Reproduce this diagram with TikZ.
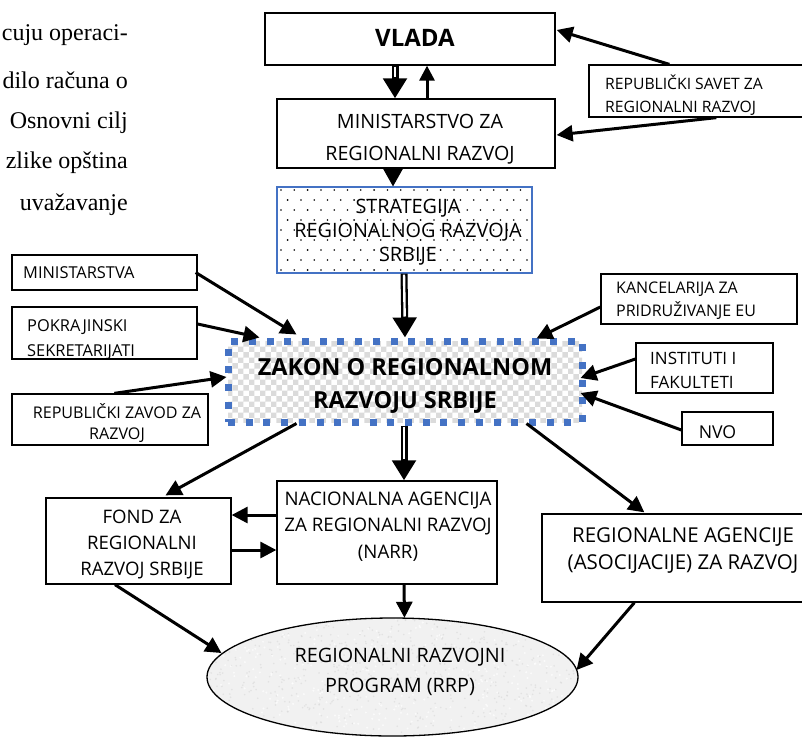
\documentclass[tikz,border=0pt]{standalone}
\usepackage{fontspec}
\setmainfont{Open Sans}
\newfontfamily\bodyserif{Liberation Serif}
\usetikzlibrary{arrows.meta,shapes.geometric,patterns,calc}
\definecolor{zblue}{RGB}{68,114,196}
\newcommand\fsz[2]{\fontsize{#1}{#2}\selectfont}
\newcommand\fatarr[2]{\draw[fat] #1 -- #2; \draw[white,line width=2.4pt,shorten >=21pt,shorten <=1pt] #1 -- #2;}
\begin{document}
\begin{tikzpicture}[x=1pt,y=-1pt,
  box/.style={draw=black,line width=1.3pt,rectangle,inner sep=0pt},
  txt/.style={inner sep=0pt,align=center},
  txl/.style={inner sep=0pt,align=left,anchor=west},
  arr/.style={line width=3pt,-{Triangle[width=16pt,length=16pt]}},
  fat/.style={line width=7pt,-{Triangle[width=23pt,length=20pt]}},
  serif/.style={inner sep=0pt,anchor=east,font=\bodyserif\fsz{24}{28}}]
\useasboundingbox (0,0) rectangle (802,736);

% body text fragments
\node[serif] (b1) at (128,35) {cuju operaci-};
\node[serif] (b2) at (128,80) {dilo računa o};
\node[serif] (b3) at (128,123) {Osnovni cilj};
\node[serif] (b4) at (128,163) {zlike opština};
\node[serif] (b5) at (128,205) {uvažavanje};

% boxes
\node[box,minimum width=290pt,minimum height=52pt] (vlada) at (410,39) {};
\node[box,minimum width=278pt,minimum height=69pt] (mini) at (416,133.5) {};
\node[box,minimum width=217pt,minimum height=52pt] (savet) at (697.5,91) {};
\node[rectangle,draw=zblue,line width=1.2pt,inner sep=0pt,minimum width=255pt,minimum height=86pt] (strat) at (404.5,230) {};
\begin{scope}
  \clip (strat.north west) rectangle (strat.south east);
  \foreach \r in {0,...,8} {\foreach \c in {0,...,19} {
    \fill ({281+\c*13.3+mod(\r,2)*6.6},{190+\r*10}) circle (0.9pt);}}
\end{scope}
\node[rectangle,draw=zblue,line width=7pt,dash pattern=on 7pt off 10.7pt,pattern=checkerboard,pattern color=gray!28,inner sep=0pt,minimum width=354pt,minimum height=81pt] (zakon) at (405,381.5) {};
\node[box,minimum width=185pt,minimum height=35pt] (minis) at (104.5,272.5) {};
\node[box,minimum width=185pt,minimum height=52pt] (pokr) at (104.5,333) {};
\node[box,minimum width=196pt,minimum height=51pt] (zavod) at (110,419.5) {};
\node[box,minimum width=196pt,minimum height=50pt] (kanc) at (699,299) {};
\node[box,minimum width=137pt,minimum height=50pt] (inst) at (704.5,368) {};
\node[box,minimum width=91pt,minimum height=33pt] (nvo) at (727.5,428.5) {};
\node[box,minimum width=185pt,minimum height=86pt] (fond) at (138.5,541) {};
\node[box,minimum width=220pt,minimum height=103pt] (narr) at (387,532.5) {};
\node[box,minimum width=264pt,minimum height=88pt] (regag) at (674,558) {};
\node[ellipse,fill=gray!11,inner sep=0pt,minimum width=371pt,minimum height=118pt] (rrp) at (392.5,677) {};
\begin{scope}
  \clip (rrp.center) ellipse [x radius=185.5pt, y radius=59pt];
  \pgfmathsetseed{11}
  \foreach \i in {1,...,700} {
    \pgfmathsetmacro\px{207+371*rnd}
    \pgfmathsetmacro\py{618+118*rnd}
    \fill[gray!32,opacity=0.55] (\px,\py) circle (0.9pt);}
  \foreach \i in {1,...,400} {
    \pgfmathsetmacro\px{207+371*rnd}
    \pgfmathsetmacro\py{618+118*rnd}
    \fill[white,opacity=0.7] (\px,\py) circle (1.1pt);}
\end{scope}
\draw[line width=1.3pt] (rrp.center) ellipse [x radius=185.5pt, y radius=59pt];

% texts
\node[txt,font=\bfseries\fsz{24}{28}] (tvlada) at (415,38) {VLADA};
\node[txt,font=\fsz{19.7}{32}] (tmini) at (420,139) {MINISTARSTVO ZA\\REGIONALNI RAZVOJ};
\node[txl,font=\fsz{15.7}{23}] (tsavet) at (605,95.5) {REPUBLIČKI SAVET ZA\\REGIONALNI RAZVOJ};
\node[txt,font=\fsz{19.8}{24}] (tstrat) at (408,232) {STRATEGIJA\\REGIONALNOG RAZVOJA\\SRBIJE};
\node[txt,font=\bfseries\fsz{23.5}{33}] (tzakon) at (405,385.5) {ZAKON O REGIONALNOM\\RAZVOJU SRBIJE};
\node[txl,font=\fsz{16.4}{23}] (tminis) at (23,273) {MINISTARSTVA};
\node[txl,font=\fsz{16.4}{25}] (tpokr) at (27,339.5) {POKRAJINSKI\\SEKRETARIJATI};
\node[txt,font=\fsz{16.1}{21}] (tzavod) at (117,423.5) {REPUBLIČKI ZAVOD ZA\\RAZVOJ};
\node[txl,font=\fsz{16}{23}] (tkanc) at (616,300.5) {KANCELARIJA ZA\\PRIDRUŽIVANJE EU};
\node[txl,font=\fsz{17}{24}] (tinst) at (650,370) {INSTITUTI I\\FAKULTETI};
\node[txt,font=\fsz{17.7}{20}] (tnvo) at (717.5,432) {NVO};
\node[txt,font=\fsz{18.6}{26}] (tfond) at (142,544) {FOND ZA\\REGIONALNI\\RAZVOJ SRBIJE};
\node[txt,font=\fsz{18.7}{26.5}] (tnarr) at (388,526.5) {NACIONALNA AGENCIJA\\ZA REGIONALNI RAZVOJ\\(NARR)};
\node[txt,font=\fsz{20.5}{27}] (tregag) at (683,550) {REGIONALNE AGENCIJE\\(ASOCIJACIJE) ZA RAZVOJ};
\node[txt,font=\fsz{19.8}{30}] (trrp) at (400,672) {REGIONALNI RAZVOJNI\\PROGRAM (RRP)};

% connectors
\draw[arr] ($(savet.north west)+(81,0)$) -- ($(vlada.east)+(1,-9)$);
\draw[arr] ($(savet.south west)+(128,0)$) -- ($(mini.east)+(1,1.5)$);
\fatarr{($(vlada.south)+(-15,0)$)}{($(mini.north)+(-21,0)$)}
\draw[line width=3pt,-{Triangle[width=15pt,length=15pt]}] ($(mini.north)+(11,0)$) -- ($(vlada.south)+(17,0)$);
\draw[line width=1pt,-{Triangle[width=20pt,length=18pt]}] ($(mini.south)+(-23,0)$) -- ($(strat.north)+(-11.5,0)$);
\fatarr{($(strat.south)+(-0.5,0)$)}{(zakon.north)}
\draw[arr] ($(minis.east)+(-2,0)$) -- ($(zakon.north west)+(72,-3)$);
\draw[arr] ($(pokr.east)+(0,-9)$) -- ($(zakon.north west)+(35,0)$);
\draw[arr] ($(zavod.north west)+(103,0)$) -- ($(zakon.west)+(2,-4.5)$);
\draw[arr] ($(kanc.west)+(0,8)$) -- ($(zakon.north east)+(-49,1)$);
\draw[arr] ($(inst.west)+(0,-9)$) -- ($(zakon.east)+(-5,-3.5)$);
\draw[arr] ($(nvo.west)+(0,1.5)$) -- ($(zakon.east)+(-5,11.5)$);
\fatarr{($(zakon.south)+(-1,0)$)}{($(narr.north)+(17,0)$)}
\draw[arr] ($(zakon.south west)+(72,-2)$) -- ($(fond.north)+(27,-2)$);
\draw[arr] ($(zakon.south east)+(-59,-2)$) -- ($(regag.north west)+(103,-1)$);
\draw[arr] ($(narr.west)+(0,-17.5)$) -- ($(fond.east)+(0,-26)$);
\draw[arr] ($(fond.east)+(0,9)$) -- ($(narr.west)+(0,17.5)$);
\draw[arr] ($(narr.south)+(17,0)$) -- ($(rrp.north)+(12,0)$);
\draw[arr] ($(fond.south)+(-23.5,0)$) -- ($(rrp.center)+(-171,-24)$);
\draw[arr] ($(regag.south west)+(93,0)$) -- ($(rrp.center)+(184,-7)$);
\end{tikzpicture}
\end{document}
